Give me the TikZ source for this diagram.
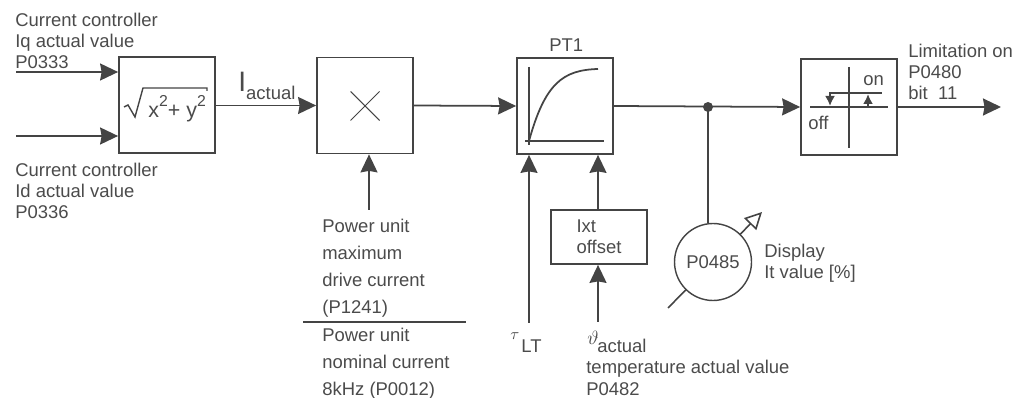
\documentclass[tikz,border=0pt]{standalone}
\usepackage{fontspec}
\setmainfont{Liberation Sans}
\usepackage{xcolor}
\usetikzlibrary{arrows.meta,calc}
\definecolor{lineink}{RGB}{68,68,68}
\definecolor{textink}{RGB}{75,75,75}

\begin{document}
\begin{tikzpicture}[
  x=0.2mm, y=-0.2mm,
  font=\fontsize{10.5}{12}\selectfont,
  every node/.style={text=textink},
  block/.style={draw=lineink, line width=1pt, minimum width=19.2mm, minimum height=19.2mm, inner sep=0pt, align=left},
  lbl/.style={anchor=north west, inner sep=0pt, align=left},
  tall/.style={lbl, font=\fontsize{10.5}{15.4}\selectfont},
  arr/.style={draw=lineink, line width=1pt, -{Stealth[length=3.6mm, width=3.4mm, inset=0.3mm]}},
  wire/.style={draw=lineink, line width=1pt},
  thinwire/.style={draw=lineink, line width=0.6pt},
  tick/.style={wire, line width=1.2pt, -{Latex[length=2mm, width=2mm]}}
]
\useasboundingbox (0,0) rectangle (1018,398);
% blocks
\node[block] (root) at (167,105) {};
\node[block] (mult) at (365,105.5) {};
\node[block] (lag) at (565,106) {};
\node[block] (hyst) at (849,107) {};
\node[block, minimum width=19.2mm, minimum height=10.8mm] (offset) at (599,237) {Ixt\\offset};
% inputs and outputs
\coordinate (iq) at (16,72);
\coordinate (id) at (16,136);
\coordinate (limit) at (1001,107);
\coordinate (tap) at (708,107);
\coordinate (maxin) at (369,210);
\coordinate (tauin) at (529,323);
\coordinate (tempin) at (598,322);
\coordinate (fracl) at (303,322);
\coordinate (fracr) at (466,322);
\coordinate (needlea) at (668,308);
\coordinate (needleb) at (762,212);
\draw[arr] (iq) -- (iq -| root.west);
\draw[arr] (id) -- (id -| root.west);
\draw[arr] (root.east |- mult.west) -- (mult.west);
\draw[arr] (mult.east) -- (lag.west);
\draw[arr] (lag.east) -- (hyst.west);
\draw[arr] (hyst.east) -- (limit);
\draw[arr] (maxin) -- (maxin |- mult.south);
\draw[arr] (tauin) -- (tauin |- lag.south);
\draw[arr] (offset.north -| tempin) -- (tempin |- lag.south);
\draw[arr] (tempin) -- (tempin |- offset.south);
\draw[wire] (fracl) -- (fracr);
% display
\draw[thinwire, line width=0.9pt, -{Triangle[open, length=3.4mm, width=3.4mm]}] (needlea) -- (needleb);
\node[circle, draw=lineink, line width=0.8pt, fill=white, minimum size=15.4mm, inner sep=0pt] (gauge) at (713,262) {P0485};
\draw[wire] (tap) -- (tap |- gauge.north);
\fill[lineink] (tap) circle (1.0mm);
% inside of blocks
\draw[thinwire, line width=0.8pt] (124,107) -- (128,105) -- (135,117) -- (143,88) -- (207,88) -- (207,91);
\node[anchor=base west, inner sep=0pt, font=\fontsize{12.2}{13}\selectfont] (rootexpr) at (148,118) {x\raisebox{6.3pt}{\fontsize{9}{9}\selectfont 2}+ y\raisebox{6.3pt}{\fontsize{9}{9}\selectfont 2}};
\draw[thinwire] ($(mult.center)+(-14.5,-14)$) -- ($(mult.center)+(14.5,15)$);
\draw[thinwire] ($(mult.center)+(-14.5,15)$) -- ($(mult.center)+(14.5,-14)$);
\draw[wire] (529,67) -- (529,145);
\draw[wire] (525,141) -- (604,141);
\draw[wire] (529,141) .. controls (545,83) and (563,70) .. (598,69);
\draw[wire] (849,67) -- (849,148);
\draw[thinwire] (810,107) -- (888,107);
\draw[thinwire] (868,93) -- (882,93);
\draw[wire, line width=1.3pt] (822,107) -- (868,107);
\draw[wire, line width=1.3pt] (829,93) -- (868,93);
\draw[tick] (830,93) -- (830,106);
\draw[tick] (868,107) -- (868,94);
% labels
\node[lbl] (iqtxt) at (15,13) {Current controller\\Iq actual value\\P0333};
\node[lbl] (idtxt) at (15,163) {Current controller\\Id actual value\\P0336};
\node[lbl] (itxt) at (238,72) {{\fontsize{16}{16}\selectfont I}\raisebox{-1.6mm}{actual}};
\node[lbl] (pttxt) at (549,38) {PT1};
\node[tall] (maxtxt) at (322,219) {Power unit\\maximum\\drive current\\(P1241)};
\node[tall] (nomtxt) at (322,328) {Power unit\\nominal current\\8kHz (P0012)};
\node[lbl, font=\fontsize{9.5}{10}\selectfont] (tautxt) at (510,332) {$\tau$};
\node[lbl] (lttxt) at (521,339) {LT};
\node[lbl] (thtxt) at (587,331) {$\vartheta$};
\node[lbl] (acttxt) at (597,339) {actual};
\node[lbl, font=\fontsize{10.5}{12.6}\selectfont] (temptxt) at (586,360) {temperature actual value\\P0482};
\node[lbl] (distxt) at (764,244) {Display\\It value [\%]};
\node[lbl] (ontxt) at (863,75) {on};
\node[lbl] (offtxt) at (808,116) {off};
\node[lbl] (limtxt) at (908,44) {Limitation on\\P0480\\bit~~11};
\end{tikzpicture}
\end{document}
